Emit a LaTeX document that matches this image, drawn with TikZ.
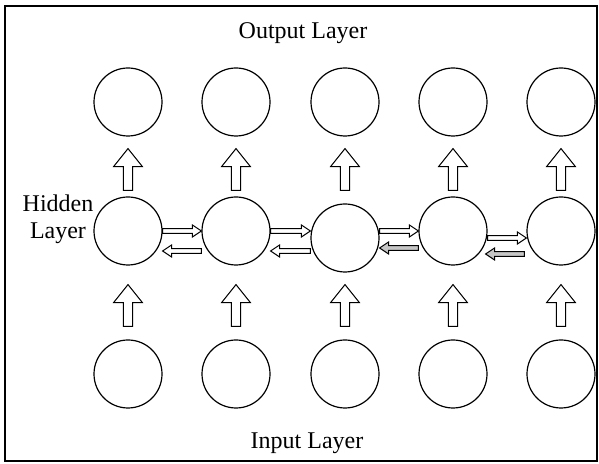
\documentclass[tikz,border=0pt]{standalone}
\usepackage{fontspec}
\setmainfont{Liberation Serif}
\usetikzlibrary{calc}

\tikzset{
  neuron/.style={circle, draw, line width=0.6pt, minimum size=34pt, inner sep=0pt},
  blockarrow/.style n args={3}{line width=0.5pt, to path={
    let \p1=($(\tikztotarget)!#3!(\tikztostart)$) in
    ($(\tikztostart)!#1!90:(\tikztotarget)$) -- ($(\p1)!#1!-90:(\tikztostart)$)
    -- ($(\p1)!#2!-90:(\tikztostart)$) -- (\tikztotarget)
    -- ($(\p1)!#2!90:(\tikztostart)$) -- ($(\p1)!#1!90:(\tikztostart)$)
    -- ($(\tikztostart)!#1!-90:(\tikztotarget)$) -- cycle}},
  uparrow/.style={blockarrow={2.3pt}{7.2pt}{9pt}},
  sidearrow/.style={blockarrow={1.2pt}{3pt}{4.5pt}},
}

\begin{document}
\begin{tikzpicture}[x=0.5pt, y=0.5pt, font=\fontsize{12}{13.5}\selectfont]
  \useasboundingbox (0,0) rectangle (599,464);
  \draw[line width=1pt] (5,3) rectangle (597,457.5);

  % layers
  \foreach \i/\x in {1/128, 2/236, 3/345, 4/453, 5/561} {
    \node[neuron] (o\i) at (\x, 362) {};
    \node[neuron] (i\i) at (\x, 90) {};
  }
  \foreach \i/\x/\y in {1/128/233, 2/236/233, 3/345/226, 4/453/233, 5/561/233}
    \node[neuron] (h\i) at (\x, \y) {};

  \node (out) at (303, 431) {Output Layer};
  \node (in) at (307, 21) {Input Layer};
  \node[align=center] (hid) at (58, 245) {Hidden\\Layer};

  % input -> hidden -> output
  \foreach \i in {1,...,5} {
    \draw[uparrow] ($(i\i.north)+(0,13)$) to ($(i\i.north |- h1.south)+(0,-19)$);
    \draw[uparrow] ($(o\i.south |- h1.north)+(0,6)$) to ($(o\i.south)+(0,-12)$);
  }

  % hidden <-> hidden
  \draw[sidearrow] (h1.east) to (h2.west);
  \draw[sidearrow] ($(h2.west)+(0,-20)$) to ($(h1.east)+(0,-20)$);
  \draw[sidearrow] (h2.east) to (h2.east -| h3.west);
  \draw[sidearrow] ($(h2.east -| h3.west)+(0,-20)$) to ($(h2.east)+(0,-20)$);
  \draw[sidearrow] (h4.west -| h3.east) to (h4.west);
  \draw[sidearrow, fill=gray!45] ($(h4.west)+(0,-17)$) to ($(h4.west -| h3.east)+(0,-17)$);
  \draw[sidearrow] ($(h4.east)+(0,-7)$) to ($(h5.west)+(0,-7)$);
  \draw[sidearrow, fill=gray!45] ($(h5.west)+(-2,-23)$) to ($(h4.east)+(-2,-23)$);
\end{tikzpicture}
\end{document}
